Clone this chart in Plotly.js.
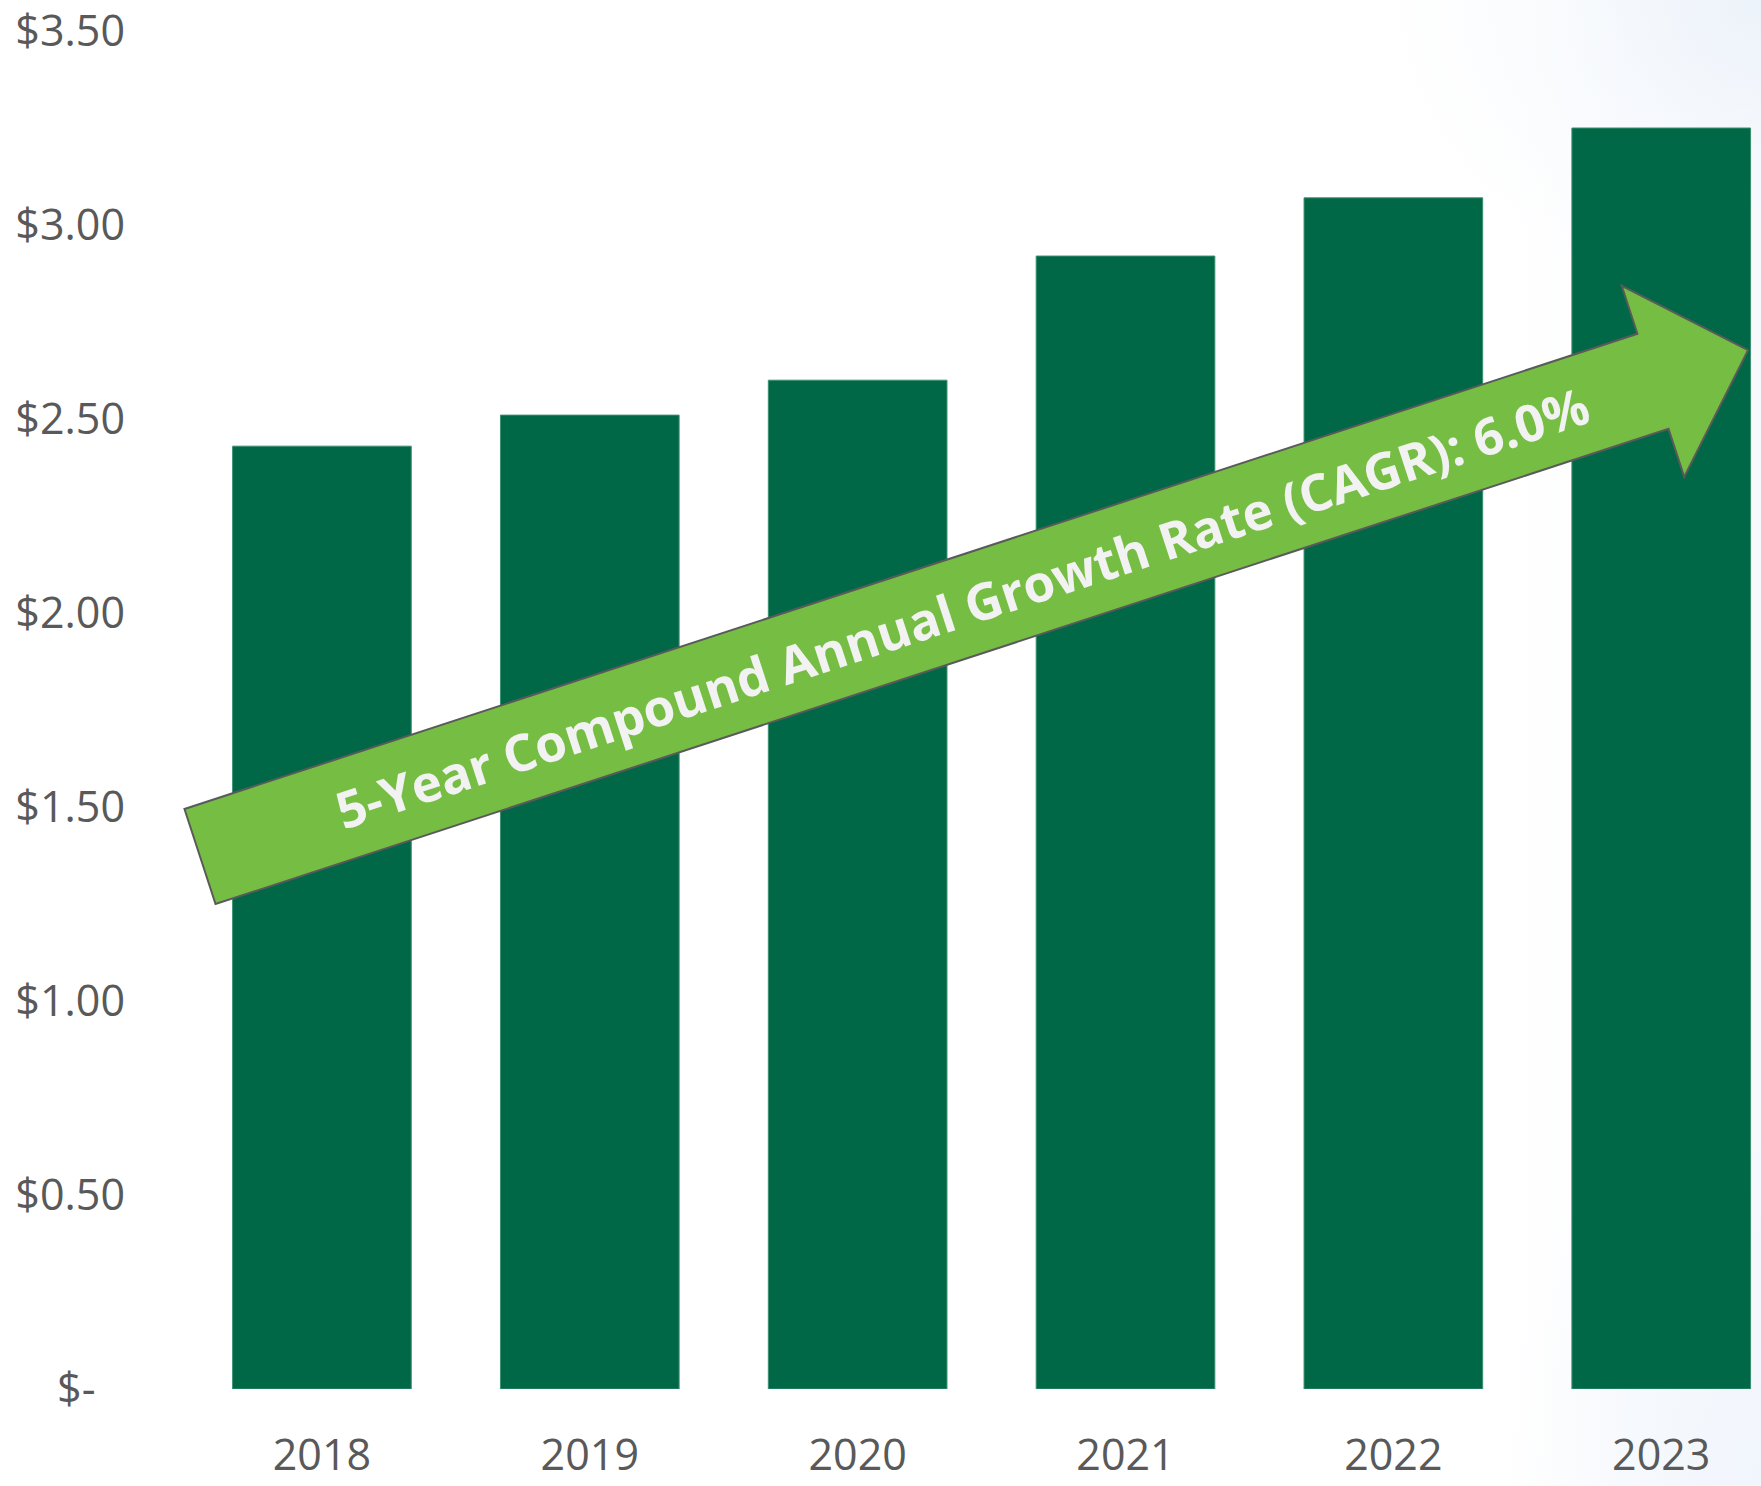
<!DOCTYPE html>
<html>
<head>
<meta charset="utf-8">
<script src="https://cdn.plot.ly/plotly-3.0.1.min.js"></script>
<style>
  html, body { margin: 0; padding: 0; }
  body {
    width: 1761px; height: 1486px; overflow: hidden;
    background:
      radial-gradient(ellipse 380px 300px at 100% 0%, rgba(236,242,250,0.9) 0%, rgba(243,247,252,0.5) 50%, rgba(255,255,255,0) 100%),
      radial-gradient(ellipse 260px 420px at 100% 100%, rgba(240,245,252,0.85) 0%, rgba(255,255,255,0) 100%),
      linear-gradient(to right, #ffffff 0%, #ffffff 86%, #f7f9fd 100%);
  }
  #chart { width: 1761px; height: 1486px; }
</style>
</head>
<body>
<div id="chart"></div>
<script>
// ---- data ----
const years = ["2018", "2019", "2020", "2021", "2022", "2023"];
const values = [2.43, 2.51, 2.60, 2.92, 3.07, 3.25];
const yTickVals = [0, 0.5, 1.0, 1.5, 2.0, 2.5, 3.0, 3.5];
const yTickText = ["$-\u00A0\u00A0\u2009", "$0.50", "$1.00", "$1.50", "$2.00", "$2.50", "$3.00", "$3.50"];
const arrowLabel = "5-Year Compound Annual Growth Rate (CAGR): 6.0%";

// ---- layout geometry ----
const W = 1761, H = 1486;
const M = { l: 188, r: 0, t: 31, b: 97 };
const PW = W - M.l - M.r, PH = H - M.t - M.b;
function toPaper(px, py) { return [(px - M.l) / PW, (H - M.b - py) / PH]; }

// arrow (pixel geometry -> paper coords)
const ang = 18.11 * Math.PI / 180;
const ux = Math.cos(ang), uy = -Math.sin(ang);
const nx = Math.sin(ang), ny = Math.cos(ang);
const T = [200, 856.5];
const shaftLen = 1528.7, shaftHalf = 50, headHalf = 100.5, headLen = 100;
function pt(along, side) { return [T[0] + ux * along + nx * side, T[1] + uy * along + ny * side]; }
const pts = [
  pt(0, -shaftHalf), pt(shaftLen, -shaftHalf), pt(shaftLen, -headHalf),
  pt(shaftLen + headLen, 0), pt(shaftLen, headHalf), pt(shaftLen, shaftHalf), pt(0, shaftHalf)
].map(p => toPaper(p[0], p[1]));
const arrowPath = "M " + pts.map(p => p[0].toFixed(5) + "," + p[1].toFixed(5)).join(" L ") + " Z";
const tCenter = toPaper(...pt((961.5 - 200) / Math.cos(ang), 0));

const trace = {
  type: "bar",
  x: years,
  y: values,
  marker: { color: "#006847", line: { color: "#3d8f70", width: 1 } },
  hoverinfo: "skip"
};

const fontAxis = { family: "Open Sans, Noto Sans, sans-serif", size: 43, color: "#595959" };

const layout = {
  width: W, height: H,
  margin: M,
  paper_bgcolor: "rgba(0,0,0,0)",
  plot_bgcolor: "rgba(0,0,0,0)",
  showlegend: false,
  bargap: 0.333,
  xaxis: {
    type: "category",
    range: [-0.5, -0.5 + PW / 267.86],
    showgrid: false, zeroline: false, showline: false,
    ticks: "", tickfont: fontAxis,
    ticklabelstandoff: 37,
    fixedrange: true
  },
  yaxis: {
    range: [0, 3.5],
    tickvals: yTickVals, ticktext: yTickText,
    showgrid: false, zeroline: false, showline: false,
    ticks: "", tickfont: fontAxis,
    ticklabelstandoff: 62,
    fixedrange: true
  },
  shapes: [{
    type: "path", xref: "paper", yref: "paper",
    path: arrowPath,
    fillcolor: "#76BE43",
    line: { color: "#5a5a5a", width: 2 },
    layer: "above"
  }],
  annotations: [{
    xref: "paper", yref: "paper",
    x: tCenter[0], y: tCenter[1],
    xanchor: "center", yanchor: "middle",
    text: arrowLabel,
    showarrow: false,
    textangle: -18.11,
    font: { family: "Open Sans, Noto Sans, sans-serif", size: 51, color: "#F2F2F2", weight: 700 }
  }]
};

Plotly.newPlot("chart", [trace], layout, { staticPlot: true, displayModeBar: false });
</script>
</body>
</html>
